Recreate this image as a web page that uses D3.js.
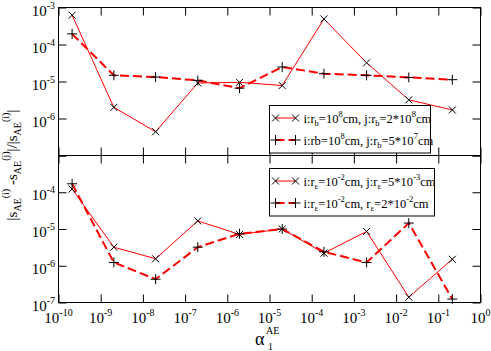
<!DOCTYPE html>
<html>
<head>
<meta charset="utf-8">
<script src="https://cdn.jsdelivr.net/npm/d3@7"></script>
<style>
  body { margin: 0; background: #fff; }
  text { font-family: "Liberation Serif", "DejaVu Serif", serif; fill: #000; }
</style>
</head>
<body>
<div id="chart"></div>
<script>
// alpha_1^AE values (x) shared by both panels
const alpha = [2.1e-10, 2.05e-9, 2e-8, 2e-7, 1.95e-6, 2e-5, 1.95e-4, 2e-3, 2e-2, 2.15e-1];

// top panel: r_b variations
const topRb2e8 = [6.2e-4, 2.0e-6, 4.4e-7, 9.1e-6, 9.5e-6, 7.8e-6, 4.9e-4, 3.2e-5, 3.2e-6, 1.7e-6];
const topRb5e7 = [1.94e-4, 1.47e-5, 1.32e-5, 1.07e-5, 6.6e-6, 2.46e-5, 1.63e-5, 1.47e-5, 1.29e-5, 1.12e-5];

// bottom panel: r_eps variations
const botRe5e3 = [1.22e-4, 3.2e-6, 1.55e-6, 1.66e-5, 7.1e-6, 1.0e-5, 2.2e-6, 8.6e-6, 1.4e-7, 1.5e-6];
const botRe2e2 = [1.7e-4, 1.23e-6, 4.3e-7, 3.2e-6, 7.4e-6, 1.0e-5, 2.4e-6, 1.23e-6, 1.45e-5, 1.24e-7];

const xTickExp = [-10, -9, -8, -7, -6, -5, -4, -3, -2, -1, 0];
const topLabelExp = [-3, -4, -5, -6];
const botLabelExp = [-4, -5, -6, -7];

const width = 491, height = 351;
const L = 58.5, R = 480.5, T = 7.5, M = 155.5, B = 302.5;

const svg = d3.select("#chart").append("svg")
  .attr("width", width)
  .attr("height", height);

const x = d3.scaleLog().domain([1e-10, 1]).range([L, R]);
const yTop = d3.scaleLog().domain([1e-7, 1e-3]).range([M, T]);
const yBot = d3.scaleLog().domain([1e-7, 1e-3]).range([B, M]);

const xDecades = xTickExp.map(e => Math.pow(10, e));
const yDecades = [-7, -6, -5, -4, -3].map(e => Math.pow(10, e));

// write text with sub/superscripts
function rich(sel, segs, size, small, supUp, subDown) {
  let cur = 0;
  segs.forEach(s => {
    const target = s.k === "sup" ? -supUp : s.k === "sub" ? subDown : 0;
    sel.append("tspan")
      .attr("dy", target - cur)
      .attr("font-size", s.k ? small : size)
      .text(s.t);
    cur = target;
  });
}

function panel(y, top, bottom, labelExp, series) {
  const g = svg.append("g");

  // ticks, inward on all four sides
  g.append("g").attr("transform", `translate(0,${bottom})`)
    .call(d3.axisBottom(x).tickValues(xDecades).tickSize(-8).tickFormat(""))
    .call(a => a.select(".domain").remove());
  g.append("g").attr("transform", `translate(0,${top})`)
    .call(d3.axisTop(x).tickValues(xDecades).tickSize(-8).tickFormat(""))
    .call(a => a.select(".domain").remove());
  g.append("g").attr("transform", `translate(${L},0)`)
    .call(d3.axisLeft(y).tickValues(yDecades).tickSize(-8).tickFormat(""))
    .call(a => a.select(".domain").remove());
  g.append("g").attr("transform", `translate(${R},0)`)
    .call(d3.axisRight(y).tickValues(yDecades).tickSize(-8).tickFormat(""))
    .call(a => a.select(".domain").remove());
  g.selectAll(".tick line").attr("stroke", "#000");

  g.append("rect")
    .attr("x", L).attr("y", top)
    .attr("width", R - L).attr("height", bottom - top)
    .attr("fill", "none").attr("stroke", "#000");

  // y tick labels
  labelExp.forEach(e => {
    const t = g.append("text")
      .attr("x", 55)
      .attr("y", y(Math.pow(10, e)) + 8)
      .attr("text-anchor", "end");
    rich(t, [{t: "10"}, {t: String(e), k: "sup"}], 15, 10, 7, 0);
  });

  const line = d3.line().x((d, i) => x(alpha[i])).y(d => y(d));

  series.forEach(s => {
    g.append("path")
      .datum(s.values)
      .attr("d", line)
      .attr("fill", "none")
      .attr("stroke", "#ff0000")
      .attr("stroke-width", s.dashed ? 2 : 1)
      .attr("stroke-dasharray", s.dashed ? "9,4" : null);

    g.selectAll(null)
      .data(s.values)
      .enter()
      .append("path")
      .attr("transform", (d, i) => `translate(${x(alpha[i])},${y(d)})`)
      .attr("d", s.dashed ? "M-5,0H5M0,-5V5" : "M-3.5,-3.5L3.5,3.5M-3.5,3.5L3.5,-3.5")
      .attr("stroke", "#000")
      .attr("stroke-width", 1)
      .attr("fill", "none");
  });
}

panel(yTop, T, M, topLabelExp, [
  {values: topRb2e8, dashed: false},
  {values: topRb5e7, dashed: true}
]);
panel(yBot, M, B, botLabelExp, [
  {values: botRe5e3, dashed: false},
  {values: botRe2e2, dashed: true}
]);

// x tick labels
xTickExp.forEach(e => {
  const t = svg.append("text")
    .attr("x", x(Math.pow(10, e)))
    .attr("y", B + 20)
    .attr("text-anchor", "middle");
  rich(t, [{t: "10"}, {t: String(e), k: "sup"}], 15, 10, 7, 0);
});

// x axis title: alpha_1^AE
svg.append("text").attr("x", 255).attr("y", 345).attr("font-size", 18).text("α");
svg.append("text").attr("x", 268).attr("y", 350).attr("font-size", 10).text("1");
svg.append("text").attr("x", 266).attr("y", 334).attr("font-size", 10).text("AE");

// y axis title
const yt = svg.append("text")
  .attr("transform", "translate(17,165) rotate(-90)")
  .attr("text-anchor", "middle");
rich(yt, [
  {t: "|s"}, {t: "AE", k: "sub"}, {t: "(i)", k: "sup"},
  {t: " -s"}, {t: "AE", k: "sub"}, {t: "(j)", k: "sup"},
  {t: "|/|s"}, {t: "AE", k: "sub"}, {t: "(i)", k: "sup"}, {t: "|"}
], 15, 10, 8, 4);

// legends
function legend(bx, by, bw, bh, rows) {
  const g = svg.append("g");
  g.append("rect")
    .attr("x", bx).attr("y", by).attr("width", bw).attr("height", bh)
    .attr("fill", "#fff").attr("stroke", "#000");
  rows.forEach((r, i) => {
    const cy = by + 12.5 + i * 22;
    g.append("line")
      .attr("x1", bx + 6).attr("x2", bx + 26)
      .attr("y1", cy).attr("y2", cy)
      .attr("stroke", "#ff0000")
      .attr("stroke-width", r.dashed ? 2 : 1)
      .attr("stroke-dasharray", r.dashed ? "9,4" : null);
    [bx + 6, bx + 26].forEach(px => {
      g.append("path")
        .attr("transform", `translate(${px},${cy})`)
        .attr("d", r.dashed ? "M-5,0H5M0,-5V5" : "M-3.5,-3.5L3.5,3.5M-3.5,3.5L3.5,-3.5")
        .attr("stroke", "#000").attr("fill", "none");
    });
    const t = g.append("text").attr("x", bx + 34).attr("y", cy + 4.5);
    rich(t, r.label, 12.5, 8.5, 6, 3.5);
  });
}

legend(269.5, 105.5, 161, 47.5, [
  {dashed: false, label: [
    {t: "i:r"}, {t: "b", k: "sub"}, {t: "=10"}, {t: "8", k: "sup"},
    {t: "cm, j:r"}, {t: "b", k: "sub"}, {t: "=2*10"}, {t: "8", k: "sup"}, {t: "cm"}]},
  {dashed: true, label: [
    {t: "i:rb=10"}, {t: "8", k: "sup"},
    {t: "cm, j:r"}, {t: "b", k: "sub"}, {t: "=5*10"}, {t: "7", k: "sup"}, {t: "cm"}]}
]);

legend(269.5, 168.5, 165, 47.5, [
  {dashed: false, label: [
    {t: "i:r"}, {t: "ε", k: "sub"}, {t: "=10"}, {t: "-2", k: "sup"},
    {t: "cm, j:r"}, {t: "ε", k: "sub"}, {t: "=5*10"}, {t: "-3", k: "sup"}, {t: "cm"}]},
  {dashed: true, label: [
    {t: "i:r"}, {t: "ε", k: "sub"}, {t: "=10"}, {t: "-2", k: "sup"},
    {t: "cm, r"}, {t: "ε", k: "sub"}, {t: "=2*10"}, {t: "-2", k: "sup"}, {t: "cm"}]}
]);
</script>
</body>
</html>
